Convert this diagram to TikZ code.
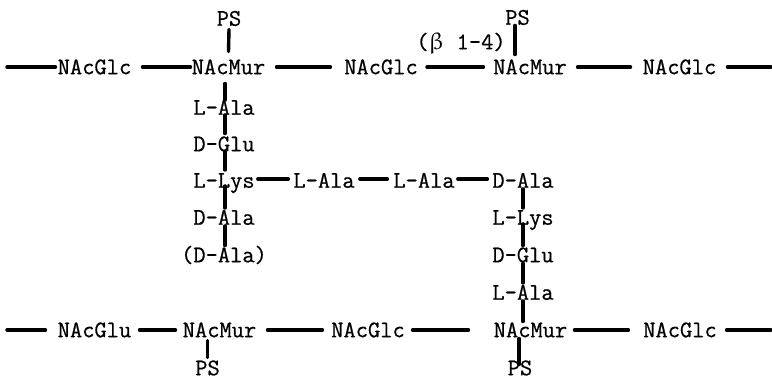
\documentclass[tikz,border=0pt]{standalone}
\usepackage{fontspec}
\usepackage{upgreek}
\setmonofont{Latin Modern Mono}[FakeBold=0.6]
\begin{document}
\begin{tikzpicture}[x=1pt,y=-1pt,
  lbl/.style={inner sep=0pt,text height=14.5pt,text depth=0pt,font=\ttfamily\fontsize{23.8}{26}\selectfont},
  bond/.style={line width=3.4pt,line cap=round}]
\useasboundingbox[fill=white] (0,0) rectangle (772,379);
% top row
\coordinate (lt) at (7,67);
\coordinate (rt) at (771,67);
\node[lbl] (g1) at (94.5,67) {NAcGlc};
\node[lbl] (m1) at (228.5,67) {NAcMur};
\node[lbl] (g2) at (381,67) {NAcGlc};
\node[lbl] (m2) at (530,67) {NAcMur};
\node[lbl] (g3) at (679.5,67) {NAcGlc};
\node[lbl] (ps1) at (229,18.5) {PS};
\node[lbl] (ps2) at (517.5,17.5) {PS};
\node[lbl] (beta) at (461,42) {($\upbeta$ 1-4)};
% left chain
\node[lbl] (a1) at (224,107.5) {L-Ala};
\node[lbl] (e1) at (224,144) {D-Glu};
\node[lbl] (k1) at (224,180.5) {L-Lys};
\node[lbl] (d1) at (224,217.5) {D-Ala};
\node[lbl] (dd) at (224,255) {(D-Ala)};
% bridge
\node[lbl] (x1) at (324,180.5) {L-Ala};
\node[lbl] (x2) at (424,180.5) {L-Ala};
% right chain
\node[lbl] (rD) at (523,180.5) {D-Ala};
\node[lbl] (rK) at (523,217.5) {L-Lys};
\node[lbl] (rE) at (523,255) {D-Glu};
\node[lbl] (rA) at (523,292.5) {L-Ala};
% bottom row
\coordinate (lb) at (7,330);
\coordinate (rb) at (771,330);
\node[lbl] (n1) at (94.5,330) {NAcGlu};
\node[lbl] (bm1) at (219.5,330) {NAcMur};
\node[lbl] (bg1) at (368,330) {NAcGlc};
\node[lbl] (bm2) at (530.5,330) {NAcMur};
\node[lbl] (bg2) at (680,330) {NAcGlc};
\node[lbl] (bps1) at (207.5,368) {PS};
\node[lbl] (bps2) at (520,368) {PS};

% top row bonds
\draw[bond] (lt) -- ([xshift=-2pt]g1.west);
\draw[bond] ([xshift=11pt]g1.east) -- ([xshift=-1pt]m1.west);
\draw[bond] ([xshift=11pt]m1.east) -- ([xshift=-13.6pt]g2.west);
\draw[bond] ([xshift=9pt]g2.east) -- ([xshift=-9.6pt]m2.west);
\draw[bond] ([xshift=10.6pt]m2.east) -- ([xshift=-12pt]g3.west);
\draw[bond] ([xshift=11pt]g3.east) -- (rt);
\draw[bond] ([yshift=-3.5pt]ps1.south) -- ([yshift=8pt]m1.north);
\draw[bond] ([xshift=-2.5pt,yshift=-0.5pt]ps2.south) -- ([xshift=-2.5pt,yshift=5pt]ps2.south |- m2.north);
% left chain bonds
\draw[bond] ([xshift=1pt,yshift=-9pt]a1.north |- m1.south) -- ([xshift=1pt]a1.north);
\draw[bond] ([xshift=1pt]a1.south) -- ([xshift=1pt,yshift=3pt]e1.north);
\draw[bond] ([xshift=1pt]e1.south) -- ([xshift=1pt,yshift=3pt]k1.north);
\draw[bond] ([xshift=1pt,yshift=2pt]k1.south) -- ([xshift=1pt,yshift=2pt]d1.north);
\draw[bond] ([xshift=1pt,yshift=-1pt]d1.south) -- ([xshift=1pt,yshift=2pt]dd.north);
% bridge bonds
\draw[bond] ([xshift=3pt,yshift=1.5pt]k1.east) -- ([xshift=-4.8pt,yshift=1.5pt]x1.west);
\draw[bond] ([xshift=5pt,yshift=1.5pt]x1.east) -- ([xshift=-5.8pt,yshift=1.5pt]x2.west);
\draw[bond] ([xshift=3pt,yshift=1.5pt]x2.east) -- ([xshift=-4.8pt,yshift=1.5pt]rD.west);
% right chain bonds
\draw[bond] ([yshift=-1pt]rD.south) -- ([yshift=2pt]rK.north);
\draw[bond] ([yshift=1pt]rK.south) -- ([yshift=2pt]rE.north);
\draw[bond] ([yshift=-1pt]rE.south) -- ([yshift=2pt]rA.north);
\draw[bond] ([yshift=-1pt]rA.south) -- ([yshift=1pt]rA.south |- bm2.north);
% bottom row bonds
\draw[bond] (lb) -- ([xshift=-12pt]n1.west);
\draw[bond] ([xshift=8pt]n1.east) -- ([xshift=-7pt]bm1.west);
\draw[bond] ([xshift=11pt]bm1.east) -- ([xshift=-8.6pt]bg1.west);
\draw[bond] ([xshift=7.6pt]bg1.east) -- ([xshift=-25pt]bm2.west);
\draw[bond] ([xshift=7pt]bm2.east) -- ([xshift=-14.6pt]bg2.west);
\draw[bond] ([xshift=9.6pt]bg2.east) -- (rb);
\draw[bond] ([yshift=-3pt]bps1.north |- bm1.south) -- ([yshift=3pt]bps1.north);
\draw[bond] ([xshift=-1pt,yshift=-1pt]bps2.north |- bm2.south) -- ([xshift=-1pt,yshift=-4pt]bps2.north);
\end{tikzpicture}
\end{document}
